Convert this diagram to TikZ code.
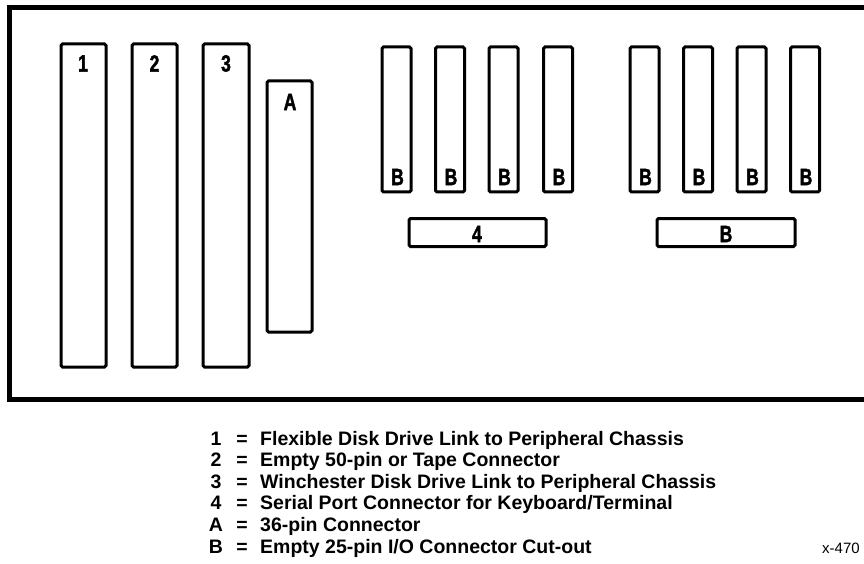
\documentclass[tikz,border=0pt]{standalone}
\usepackage{fontspec}
\setmainfont{Liberation Sans}
\newfontfamily\heavyfont[BoldFont=Liberation Sans Bold, BoldFeatures={FakeBold=2}]{Liberation Sans}
\newcommand{\cond}[1]{\scalebox{0.75}[1]{#1}}
\tikzset{
  frameline/.style={line width=4.5pt, line cap=rect},
  slot/.style={draw, line width=3pt, rounded corners=1.5pt, inner sep=0pt, outer sep=0pt},
  lbl/.style={font=\heavyfont\bfseries\fontsize{23.5}{24}\selectfont, inner sep=0pt},
  legkey/.style={font=\bfseries\fontsize{19.5}{20}\selectfont, inner sep=0pt, anchor=base},
  legtxt/.style={font=\bfseries\fontsize{19.5}{20}\selectfont, inner sep=0pt, anchor=base west},
  ref/.style={font=\fontsize{15}{15}\selectfont, inner sep=0pt, anchor=base west}
}
\begin{document}
\begin{tikzpicture}[x=1pt,y=-1pt]
\useasboundingbox (0,0) rectangle (864,564);
% outer chassis frame (open to the right)
\draw[frameline] (880,7.5) -- (9.5,7.5) -- (9.5,399.5) -- (880,399.5);

% tall slots 1, 2, 3 and A
\node[slot, minimum width=45pt, minimum height=323pt] (s1) at (83.5,205.5) {};
\node[slot, minimum width=45pt, minimum height=323pt] (s2) at (154.5,205.5) {};
\node[slot, minimum width=46pt, minimum height=323pt] (s3) at (226,205.5) {};
\node[slot, minimum width=45pt, minimum height=251pt] (sA) at (289.5,206.5) {};
\node[lbl] (l1) at (83,63.5) {\cond{1}};
\node[lbl] (l2) at (154.5,63.5) {\cond{2}};
\node[lbl] (l3) at (226,63.5) {\cond{3}};
\node[lbl] (lA) at (290,102) {\cond{A}};

% small B cut-outs
\foreach \n/\x in {1/396.5, 2/450, 3/503.5, 4/558, 5/644.5, 6/698, 7/751.5, 8/805}{
  \node[slot, minimum width=29pt, minimum height=145pt] (b\n) at (\x,119.5) {};
  \node[lbl] (bl\n) at ([yshift=15pt, xshift=1pt]b\n.south) {\cond{B}};
}

% horizontal connectors
\node[slot, minimum width=137pt, minimum height=28pt] (c4) at (477.5,232.5) {};
\node[slot, minimum width=138pt, minimum height=28pt] (cB) at (726,232.5) {};
\node[lbl] (l4) at (477,234) {\cond{4}};
\node[lbl] (lB) at (726,234) {\cond{B}};

% legend
\foreach \i/\k/\t in {
  0/1/{Flexible Disk Drive Link to Peripheral Chassis},
  1/2/{Empty 50-pin or Tape Connector},
  2/3/{Winchester Disk Drive Link to Peripheral Chassis},
  3/4/{Serial Port Connector for Keyboard/Terminal},
  4/A/{36-pin Connector},
  5/B/{Empty 25-pin I/O Connector Cut-out}}{
  \node[legkey] (k\i) at (216,445+21.6*\i) {\k};
  \node[legkey] (e\i) at (242,445+21.6*\i) {=};
  \node[legtxt] (t\i) at (260,445+21.6*\i) {\t};
}
\node[ref] (xref) at (822,553) {x-470};
\end{tikzpicture}
\end{document}
